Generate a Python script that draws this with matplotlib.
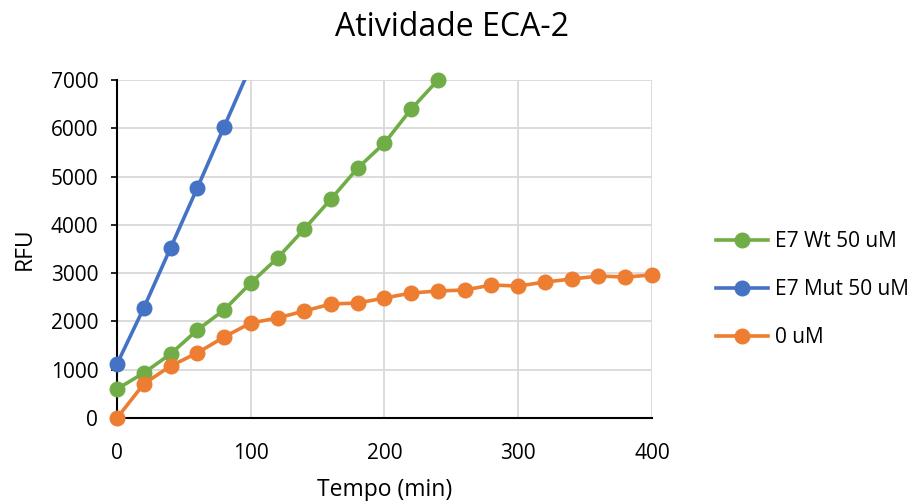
import matplotlib
matplotlib.use("Agg")
import matplotlib.pyplot as plt
from matplotlib.lines import Line2D
import numpy as np

plt.rcParams['font.family'] = ['Open Sans', 'DejaVu Sans']

# Data
x_zero = [0, 20, 40, 60, 80, 100, 120, 140, 160, 180, 200, 220, 240, 260, 280, 300, 320, 340, 360, 380, 400]
y_zero = [0, 704, 1077, 1346, 1677, 1967, 2071, 2216, 2361, 2381, 2485, 2589, 2630, 2651, 2754, 2733, 2816, 2878, 2940, 2920, 2961]

x_wt = [0, 20, 40, 60, 80, 100, 120, 140, 160, 180, 200, 220, 240]
y_wt = [600, 932, 1325, 1822, 2236, 2796, 3313, 3914, 4535, 5177, 5695, 6399, 7000]

x_mut = [0, 20, 40, 60, 80, 100]
y_mut = [1118, 2278, 3520, 4763, 6026, 7290]

labels = ['E7 Wt 50 uM', 'E7 Mut 50 uM', '0 uM']
colors = ['#70AD47', '#4472C4', '#ED7D31']

title = 'Atividade ECA-2'
xlabel = 'Tempo (min)'
ylabel = 'RFU'
xticks = [0, 100, 200, 300, 400]
yticks = [0, 1000, 2000, 3000, 4000, 5000, 6000, 7000]

fig = plt.figure(figsize=(9.12, 5.01), dpi=100)
ax = fig.add_axes([117/912, 83/501, 535/912, 338/501])

ymax = 7000
series = [(x_wt, y_wt), (x_mut, y_mut), (x_zero, y_zero)]
handles = []
order = [2, 0, 1]
for i in order:
    xs, ys = series[i]
    ax.plot(xs, ys, '-', color=colors[i], lw=2.6, zorder=3 + i, solid_capstyle='round')
    xm = [a for a, b in zip(xs, ys) if b <= ymax]
    ym = [b for b in ys if b <= ymax]
    ax.plot(xm, ym, 'o', color=colors[i], ms=10.5, clip_on=False, zorder=3 + i)
for i in range(3):
    handles.append(Line2D([], [], color=colors[i], lw=2.6, marker='o', ms=10.5))

ax.set_xlim(0, 400)
ax.set_ylim(0, 7000)
ax.set_xticks(xticks)
ax.set_yticks(yticks)
ax.grid(True, color='#D9D9D9', lw=1.3, zorder=0)
ax.set_axisbelow(True)
for s in ['top', 'right']:
    ax.spines[s].set_visible(False)
for s in ['left', 'bottom']:
    ax.spines[s].set_color('black')
    ax.spines[s].set_linewidth(1.5)
ax.tick_params(axis='y', length=4.5, width=1.2, color='black', labelsize=15, pad=9)
ax.tick_params(axis='x', length=0, labelsize=15, pad=18)

ax.set_xlabel(xlabel, fontsize=16.5, labelpad=10)
ax.set_ylabel(ylabel, fontsize=16.5, labelpad=10)
fig.text(452/912, 1 - 28/501, title, ha='center', va='center', fontsize=23)

leg = ax.legend(handles, labels, loc='center left', bbox_to_anchor=(1.085, 0.38),
                frameon=False, fontsize=15, handlelength=2.5, labelspacing=1.3,
                handletextpad=0.3)

fig.savefig('out.png', dpi=100)
